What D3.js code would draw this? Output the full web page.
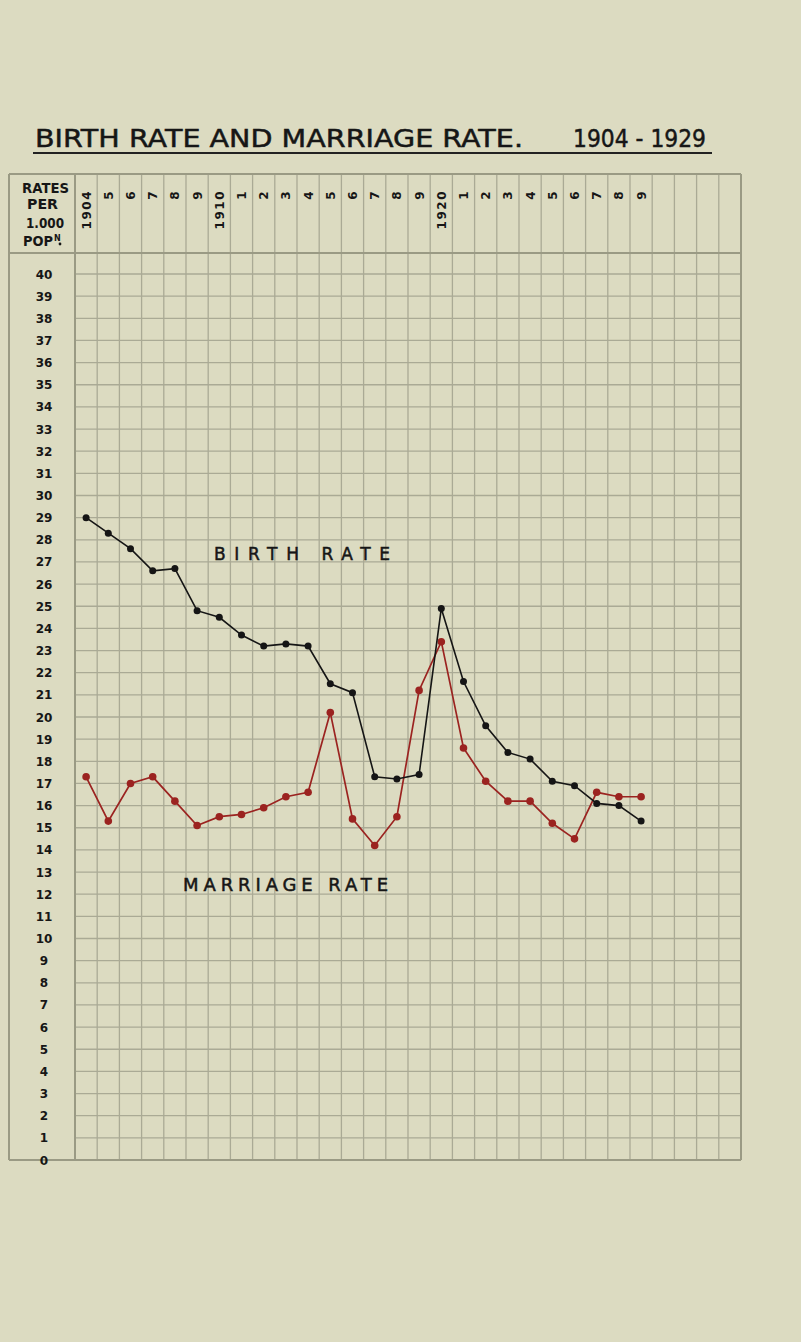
<!DOCTYPE html>
<html><head><meta charset="utf-8">
<script src="https://cdn.jsdelivr.net/npm/d3@7"></script>
<style>body{margin:0;background:#dcdbc1;} svg{display:block}</style>
</head><body><svg id="c" width="801" height="1342"></svg>
<script>
const years = [1904,1905,1906,1907,1908,1909,1910,1911,1912,1913,1914,1915,1916,1917,1918,1919,1920,1921,1922,1923,1924,1925,1926,1927,1928,1929];
const yearLabels = ["1904","5","6","7","8","9","1910","1","2","3","4","5","6","7","8","9","1920","1","2","3","4","5","6","7","8","9"];
const birthRate = [29.0,28.3,27.6,26.6,26.7,24.8,24.5,23.7,23.2,23.3,23.2,21.5,21.1,17.3,17.2,17.4,24.9,21.6,19.6,18.4,18.1,17.1,16.9,16.1,16.0,15.3];
const marriageRate = [17.3,15.3,17.0,17.3,16.2,15.1,15.5,15.6,15.9,16.4,16.6,20.2,15.4,14.2,15.5,21.2,23.4,18.6,17.1,16.2,16.2,15.2,14.5,16.6,16.4,16.4];
const yTicks = [0,1,2,3,4,5,6,7,8,9,10,11,12,13,14,15,16,17,18,19,20,21,22,23,24,25,26,27,28,29,30,31,32,33,34,35,36,37,38,39,40];
const headerLines = ["RATES","PER","1.000","POP"];

(function(){
const svg = d3.select('#c');
const W = 801, H = 1342;
svg.append('rect').attr('width', W).attr('height', H).attr('fill', '#dcdbc1');

const gLeft = 9, colX0 = 75, gRight = 741, gTop = 174, headBottom = 253;
const x = d3.scaleLinear().domain([1903.5, 1933.5]).range([colX0, gRight]);
const y = d3.scaleLinear().domain([0, 40]).range([1160, 274]);
const gBottom = y(0);

const gridC = '#aaaa95', borderC = '#9a9a84';
const g = svg.append('g');

g.selectAll('line.h').data(yTicks).join('line')
  .attr('x1', colX0).attr('x2', gRight)
  .attr('y1', d => y(d)).attr('y2', d => y(d))
  .attr('stroke', gridC).attr('stroke-width', 1.3);

const vcols = d3.range(31).map(i => 1903.5 + i);
g.selectAll('line.v').data(vcols).join('line')
  .attr('x1', d => x(d)).attr('x2', d => x(d))
  .attr('y1', gTop).attr('y2', gBottom)
  .attr('stroke', gridC).attr('stroke-width', 1.3);

const border = [[gLeft, gTop, gRight, gTop], [gLeft, gBottom, gRight, gBottom], [gLeft, gTop, gLeft, gBottom],
  [gRight, gTop, gRight, gBottom], [colX0, gTop, colX0, gBottom], [gLeft, headBottom, gRight, headBottom]];
g.selectAll('line.b').data(border).join('line')
  .attr('x1', d => d[0]).attr('y1', d => d[1]).attr('x2', d => d[2]).attr('y2', d => d[3])
  .attr('stroke', borderC).attr('stroke-width', 2);

const ink = '#161616';
const font = "'DejaVu Sans', sans-serif";

svg.append('text').attr('x', 35).attr('y', 147).text('BIRTH RATE AND MARRIAGE RATE.')
  .attr('font-family', font).attr('font-size', 25).attr('fill', ink)
  .attr('stroke', ink).attr('stroke-width', 0.5)
  .attr('textLength', 488).attr('lengthAdjust', 'spacingAndGlyphs');
svg.append('text').attr('x', 573).attr('y', 147).text('1904 - 1929')
  .attr('font-family', font).attr('font-size', 25).attr('fill', ink)
  .attr('stroke', ink).attr('stroke-width', 0.5)
  .attr('textLength', 133).attr('lengthAdjust', 'spacingAndGlyphs');
svg.append('line').attr('x1', 33).attr('x2', 712).attr('y1', 153).attr('y2', 153)
  .attr('stroke', '#222').attr('stroke-width', 1.8);

const hdr = [{t: headerLines[0], x: 22, y: 193, w: 47}, {t: headerLines[1], x: 27, y: 209, w: 31}, {t: headerLines[2], x: 26, y: 228, w: 38}];
svg.selectAll('text.hd').data(hdr).join('text')
  .attr('x', d => d.x).attr('y', d => d.y).text(d => d.t)
  .attr('font-family', font).attr('font-weight', 'bold').attr('font-size', 14).attr('fill', ink)
  .attr('textLength', d => d.w).attr('lengthAdjust', 'spacingAndGlyphs');
const pop = svg.append('text').attr('x', 23).attr('y', 246)
  .attr('font-family', font).attr('font-weight', 'bold').attr('font-size', 14).attr('fill', ink);
pop.append('tspan').text(headerLines[3]).attr('textLength', 30).attr('lengthAdjust', 'spacingAndGlyphs');
pop.append('tspan').text('N').attr('font-size', 8).attr('dy', -5).attr('dx', 1);
svg.append('circle').attr('cx', 60).attr('cy', 244).attr('r', 1.4).attr('fill', ink);

svg.selectAll('text.yr').data(years).join('text')
  .attr('transform', d => `translate(${x(d) + 4.5},190) rotate(-90)`)
  .attr('text-anchor', 'end')
  .text((d, i) => yearLabels[i])
  .attr('font-family', font).attr('font-weight', 'bold').attr('font-size', 12)
  .attr('letter-spacing', 1.5).attr('fill', ink);

svg.selectAll('text.yl').data(yTicks).join('text')
  .attr('x', 44).attr('y', d => y(d) + 4.5).attr('text-anchor', 'middle')
  .text(d => d)
  .attr('font-family', font).attr('font-weight', 'bold').attr('font-size', 12).attr('fill', ink);

const red = '#9b2320', blk = '#151515';
const mData = years.map((yr, i) => ({yr, v: marriageRate[i]}));
const bData = years.map((yr, i) => ({yr, v: birthRate[i]}));
const line = d3.line().x(d => x(d.yr)).y(d => y(d.v));

svg.append('path').attr('d', line(mData)).attr('fill', 'none').attr('stroke', red).attr('stroke-width', 1.7);
svg.selectAll('circle.m').data(mData).join('circle')
  .attr('cx', d => x(d.yr)).attr('cy', d => y(d.v)).attr('r', 3.8).attr('fill', red);

svg.append('path').attr('d', line(bData)).attr('fill', 'none').attr('stroke', blk).attr('stroke-width', 1.6);
svg.selectAll('circle.b').data(bData).join('circle')
  .attr('cx', d => x(d.yr)).attr('cy', d => y(d.v)).attr('r', 3.5).attr('fill', blk);

svg.append('text').attr('x', 214).attr('y', 560).text('BIRTH RATE')
  .attr('font-family', font).attr('font-size', 17).attr('fill', ink)
  .attr('stroke', ink).attr('stroke-width', 0.5)
  .attr('textLength', 176).attr('lengthAdjust', 'spacing');
svg.append('text').attr('x', 183).attr('y', 891).text('MARRIAGE RATE')
  .attr('font-family', font).attr('font-size', 18).attr('fill', ink)
  .attr('stroke', ink).attr('stroke-width', 0.5)
  .attr('textLength', 205).attr('lengthAdjust', 'spacing');
})();
</script></body></html>
